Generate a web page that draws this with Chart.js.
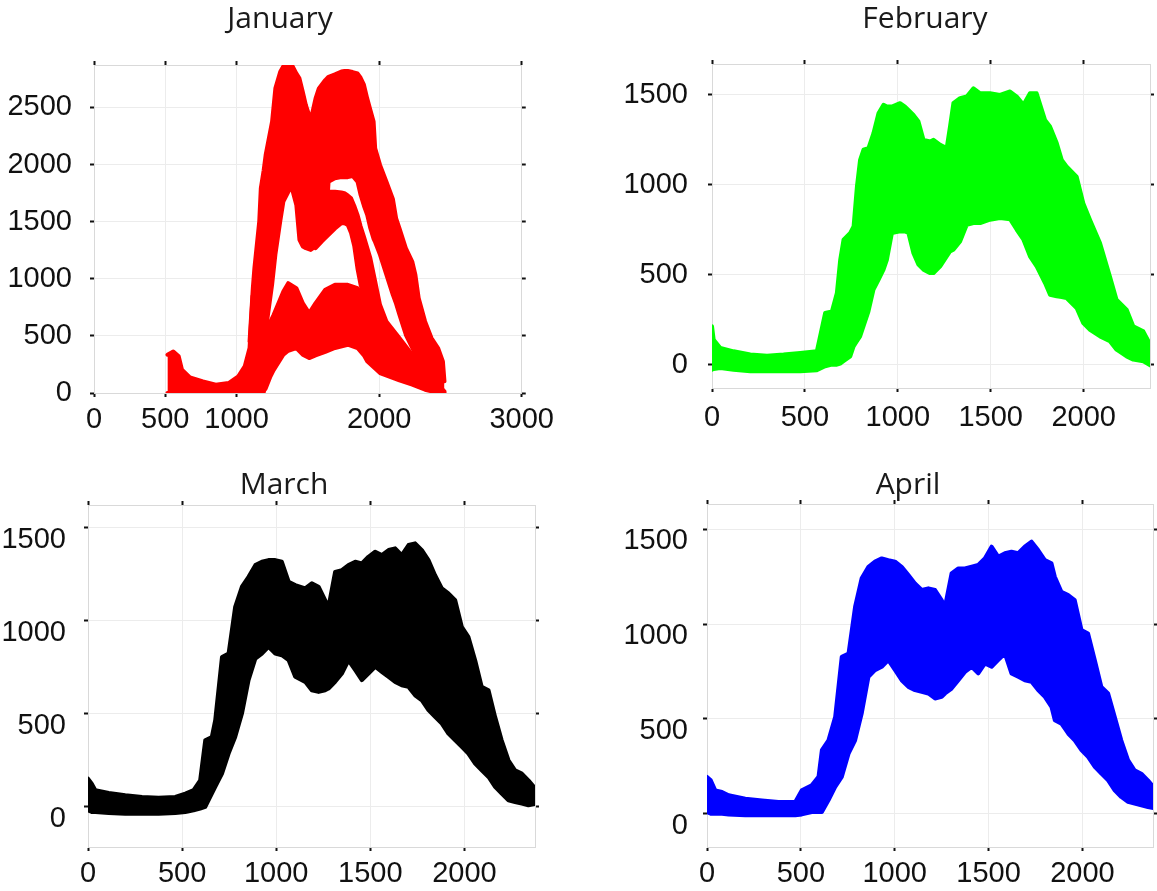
<!DOCTYPE html>
<html>
<head>
<meta charset="utf-8">
<script src="https://cdn.jsdelivr.net/npm/chart.js@4/dist/chart.umd.min.js"></script>
<style>
html,body{margin:0;padding:0;background:#fff;}
body{position:relative;width:1157px;height:891px;overflow:hidden;}
canvas{position:absolute;}
</style>
</head>
<body>
<canvas id="cJan" width="560" height="445" style="left:0px;top:0px"></canvas>
<canvas id="cFeb" width="692" height="445" style="left:579px;top:0px"></canvas>
<canvas id="cMar" width="568" height="446" style="left:0px;top:445px"></canvas>
<canvas id="cApr" width="658" height="446" style="left:579px;top:445px"></canvas>
<script>
// ---------- tick labels ----------
const JAN_X_TICKS = [0, 500, 1000, 2000, 3000];
const JAN_Y_TICKS = [0, 500, 1000, 1500, 2000, 2500];
const X_TICKS = [0, 500, 1000, 1500, 2000];
const Y_TICKS = [0, 500, 1000, 1500];

// ---------- January (point cloud read as bands: x, upper edge, lower edge) ----------
const JAN_BASE_X  = [515, 556, 594, 617, 673, 764, 854, 944, 1012, 1057, 1091, 1112];
const JAN_BASE_HI = [335, 364, 321, 204, 137, 102, 73, 87, 146, 233, 394, 850];
const JAN_BASE_LO = [0, 0, 0, 0, 0, 0, 0, 0, 0, 0, 0, 0];

const JAN_UP_X  = [1091, 1114, 1125, 1159, 1170, 1190, 1204, 1249, 1272, 1306, 1328, 1362, 1385, 1419, 1441, 1464, 1486, 1520, 1554, 1577, 1622, 1645, 1690, 1735, 1757, 1780, 1814, 1848, 1870, 1893, 1916, 1938, 1961, 1972, 2006, 2051, 2096, 2119, 2142, 2187, 2232, 2254, 2277, 2322, 2367, 2413, 2447, 2458];
const JAN_UP_HI = [452, 918, 1093, 1501, 1793, 1950, 2084, 2376, 2667, 2813, 2860, 2906, 2880, 2798, 2755, 2638, 2521, 2390, 2580, 2667, 2740, 2769, 2790, 2815, 2819, 2819, 2810, 2798, 2760, 2700, 2580, 2480, 2376, 2143, 1997, 1850, 1700, 1530, 1443, 1268, 1151, 1035, 831, 627, 481, 394, 277, 102];
const JAN_UP_LO = [0, 0, 0, 0, 0, 0, 539, 947, 1210, 1501, 1676, 1760, 1807, 1647, 1341, 1283, 1268, 1253, 1283, 1312, 1370, 1851, 1880, 1890, 1890, 1890, 1900, 1851, 1734, 1640, 1560, 1443, 1350, 1320, 1210, 1035, 860, 780, 685, 510, 394, 340, 277, 160, 73, 15, 0, 0];

const JAN_MID_X  = [1554, 1600, 1645, 1690, 1735, 1757, 1780, 1803, 1825, 1848, 1870, 1893, 1938, 1972, 2006, 2051, 2142, 2232, 2300];
const JAN_MID_HI = [1734, 1750, 1763, 1763, 1755, 1749, 1730, 1705, 1640, 1560, 1460, 1370, 1181, 977, 772, 627, 481, 335, 219];
const JAN_MID_LO = [1268, 1330, 1385, 1440, 1487, 1487, 1472, 1400, 1290, 1090, 947, 860, 760, 700, 627, 520, 394, 250, 150];

const JAN_LOW_X  = [1180, 1204, 1238, 1260, 1328, 1362, 1419, 1464, 1509, 1554, 1622, 1690, 1780, 1848, 1893, 1916, 2006, 2142, 2232, 2322, 2413, 2458];
const JAN_LOW_HI = [539, 539, 627, 685, 889, 962, 918, 787, 700, 787, 904, 947, 947, 918, 860, 800, 656, 452, 335, 189, 73, 15];
const JAN_LOW_LO = [0, 40, 146, 200, 335, 370, 394, 335, 306, 330, 360, 394, 423, 394, 330, 277, 175, 110, 73, 29, 0, 0];

// ---------- February ----------
const FEB_X  = [0, 9, 45, 116, 206, 296, 385, 475, 564, 609, 645, 672, 690, 708, 744, 762, 780, 797, 815, 842, 869, 896, 923, 941, 968, 1012, 1039, 1057, 1084, 1111, 1138, 1174, 1192, 1228, 1263, 1281, 1299, 1335, 1371, 1407, 1443, 1496, 1550, 1604, 1640, 1676, 1711, 1747, 1792, 1819, 1855, 1882, 1908, 1962, 1998, 2034, 2088, 2141, 2177, 2231, 2267, 2321, 2383];
const FEB_HI = [213, 139, 93, 74, 56, 50, 56, 65, 74, 287, 296, 398, 583, 695, 732, 769, 991, 1139, 1195, 1204, 1287, 1398, 1445, 1435, 1435, 1454, 1435, 1417, 1389, 1352, 1250, 1241, 1250, 1222, 1204, 1325, 1454, 1482, 1491, 1537, 1509, 1509, 1500, 1519, 1491, 1445, 1509, 1509, 1361, 1325, 1232, 1139, 1102, 1046, 898, 806, 676, 491, 361, 306, 213, 185, 65];
const FEB_LO = [-28, -24, -19, -28, -37, -37, -37, -37, -31, -9, 0, 0, 6, 19, 46, 102, 130, 157, 213, 296, 417, 472, 528, 583, 732, 741, 741, 732, 620, 556, 528, 509, 509, 546, 602, 630, 639, 685, 778, 787, 787, 806, 815, 809, 750, 695, 602, 546, 454, 389, 380, 376, 370, 315, 231, 194, 157, 130, 83, 46, 28, 19, -19];

// ---------- March ----------
const MAR_X  = [0, 20, 39, 110, 198, 287, 375, 464, 517, 561, 596, 623, 658, 676, 712, 747, 782, 818, 853, 889, 924, 959, 995, 1030, 1066, 1101, 1154, 1189, 1225, 1260, 1278, 1313, 1349, 1384, 1420, 1455, 1490, 1526, 1561, 1597, 1632, 1667, 1703, 1738, 1774, 1809, 1844, 1880, 1915, 1951, 1986, 2021, 2057, 2092, 2128, 2163, 2198, 2234, 2269, 2305, 2340, 2384];
const MAR_HI = [152, 125, 90, 75, 63, 54, 50, 54, 72, 90, 143, 358, 376, 466, 806, 824, 1075, 1183, 1236, 1299, 1317, 1326, 1326, 1317, 1210, 1192, 1174, 1201, 1183, 1111, 1075, 1263, 1272, 1299, 1317, 1308, 1344, 1371, 1353, 1380, 1389, 1353, 1407, 1416, 1380, 1326, 1245, 1174, 1147, 1111, 968, 914, 788, 645, 627, 484, 358, 251, 197, 179, 143, 90];
const MAR_LO = [-18, -27, -27, -32, -36, -36, -36, -32, -27, -18, -9, 0, 72, 108, 179, 287, 376, 502, 681, 797, 824, 860, 824, 815, 788, 699, 672, 627, 618, 627, 636, 672, 717, 788, 735, 681, 717, 753, 726, 699, 672, 654, 645, 600, 573, 520, 484, 448, 394, 358, 323, 287, 233, 197, 161, 108, 72, 36, 27, 18, 9, 18];

// ---------- April ----------
const APR_X  = [0, 20, 44, 80, 115, 204, 293, 381, 470, 505, 558, 594, 612, 647, 683, 718, 754, 789, 824, 860, 895, 931, 966, 1002, 1037, 1073, 1108, 1144, 1179, 1215, 1250, 1268, 1303, 1339, 1374, 1410, 1445, 1480, 1516, 1551, 1587, 1622, 1658, 1693, 1729, 1764, 1800, 1835, 1853, 1888, 1924, 1959, 1995, 2030, 2066, 2101, 2137, 2172, 2207, 2243, 2278, 2314, 2349, 2394];
const APR_HI = [194, 176, 123, 114, 97, 79, 70, 62, 62, 123, 150, 194, 335, 387, 511, 828, 845, 1092, 1242, 1303, 1330, 1347, 1338, 1330, 1303, 1259, 1215, 1180, 1189, 1180, 1127, 1092, 1268, 1294, 1294, 1303, 1312, 1347, 1409, 1356, 1374, 1382, 1374, 1409, 1435, 1391, 1338, 1321, 1250, 1171, 1153, 1127, 969, 951, 810, 669, 634, 511, 387, 282, 229, 211, 176, 123];
const APR_LO = [9, 0, 0, 0, -4, -9, -9, -9, -9, -4, 9, 9, 9, 70, 141, 194, 317, 387, 528, 722, 757, 775, 810, 757, 704, 669, 652, 643, 634, 608, 616, 634, 660, 704, 748, 775, 740, 792, 775, 810, 845, 740, 722, 704, 696, 652, 616, 564, 493, 475, 423, 387, 335, 299, 247, 211, 176, 123, 88, 62, 53, 44, 35, 26];

// ---------- drawing ----------
const TICK_FONT = {family: "'Liberation Sans', Arial, sans-serif", size: 29};
const TITLE_FONT = {family: "'Open Sans', 'Noto Sans', sans-serif", size: 30, weight: 'normal'};
const GRID_COLOR = '#ececec';
const BORDER_COLOR = '#d9d9d9';

function bandDatasets(xs, hi, lo, color) {
  const common = {borderColor: color, backgroundColor: color, borderWidth: 4, pointRadius: 0,
    tension: 0, borderJoinStyle: 'round', borderCapStyle: 'round'};
  return [
    Object.assign({data: xs.map((x, i) => ({x: x, y: hi[i]})), fill: false}, common),
    Object.assign({data: xs.map((x, i) => ({x: x, y: lo[i]})), fill: '-1'}, common)
  ];
}

function setTicks(list) {
  return function (scale) { scale.ticks = list.map(v => ({value: v})); };
}

function makeChart(p) {
  let datasets = [];
  p.bands.forEach(b => { datasets = datasets.concat(bandDatasets(b[0], b[1], b[2], p.color)); });
  const gridMain = {color: GRID_COLOR, lineWidth: 1, drawTicks: true, tickLength: 4, tickWidth: 2, tickColor: '#111'};
  const gridSide = {drawOnChartArea: false, drawTicks: true, tickLength: 4, tickWidth: 2, tickColor: '#111'};
  new Chart(document.getElementById(p.id), {
    type: 'line',
    data: {datasets: datasets},
    options: {
      responsive: false,
      animation: false,
      devicePixelRatio: 1,
      layout: {padding: 0},
      plugins: {
        legend: {display: false},
        tooltip: {enabled: false},
        title: {display: true, text: p.title, font: TITLE_FONT, color: '#1a1a1a',
          padding: {top: p.tPadTop, bottom: p.tPadBot}}
      },
      scales: {
        x: {type: 'linear', position: 'bottom', min: p.xMin, max: p.xMax,
          afterBuildTicks: setTicks(p.xTicks), afterFit: s => { s.height = p.xH; },
          ticks: {font: TICK_FONT, color: '#111', padding: p.xPad, maxRotation: 0, autoSkip: false,
            callback: v => String(v)},
          grid: gridMain, border: {color: BORDER_COLOR}},
        y: {type: 'linear', position: 'left', min: p.yMin, max: p.yMax,
          afterBuildTicks: setTicks(p.yTicks), afterFit: s => { s.width = p.yW; },
          ticks: {font: TICK_FONT, color: '#111', padding: p.yPad, labelOffset: p.yOff, autoSkip: false,
            callback: v => String(v)},
          grid: gridMain, border: {color: BORDER_COLOR}},
        x2: {type: 'linear', position: 'top', min: p.xMin, max: p.xMax,
          afterBuildTicks: setTicks(p.xTicks), afterFit: s => { s.height = p.x2H; },
          ticks: {display: false}, grid: gridSide, border: {color: BORDER_COLOR}},
        y2: {type: 'linear', position: 'right', min: p.yMin, max: p.yMax,
          afterBuildTicks: setTicks(p.yTicks), afterFit: s => { s.width = p.y2W; },
          ticks: {display: false}, grid: gridSide, border: {color: BORDER_COLOR}}
      }
    }
  });
}

const panels = [
  {id: 'cJan', title: 'January', color: '#ff0000',
   bands: [[JAN_BASE_X, JAN_BASE_HI, JAN_BASE_LO], [JAN_UP_X, JAN_UP_HI, JAN_UP_LO],
           [JAN_MID_X, JAN_MID_HI, JAN_MID_LO], [JAN_LOW_X, JAN_LOW_HI, JAN_LOW_LO]],
   xTicks: JAN_X_TICKS, yTicks: JAN_Y_TICKS, xMin: 0, xMax: 3000, yMin: 0, yMax: 2872,
   yW: 94, y2W: 23, xH: 52, x2H: 4, tPadTop: 1, tPadBot: 24, xPad: 6, yPad: 18, yOff: 0},
  {id: 'cFeb', title: 'February', color: '#00ff00',
   bands: [[FEB_X, FEB_HI, FEB_LO]],
   xTicks: X_TICKS, yTicks: Y_TICKS, xMin: 0, xMax: 2357, yMin: -130, yMax: 1672,
   yW: 133, y2W: 121, xH: 57, x2H: 4, tPadTop: 1, tPadBot: 23, xPad: 9, yPad: 20, yOff: 0},
  {id: 'cMar', title: 'March', color: '#000000',
   bands: [[MAR_X, MAR_HI, MAR_LO]],
   xTicks: X_TICKS, yTicks: Y_TICKS, xMin: 0, xMax: 2375, yMin: -215, yMax: 1622,
   yW: 88, y2W: 33, xH: 44, x2H: 2, tPadTop: 22, tPadBot: 0, xPad: 6, yPad: 18, yOff: 12},
  {id: 'cApr', title: 'April', color: '#0000ff',
   bands: [[APR_X, APR_HI, APR_LO]],
   xTicks: X_TICKS, yTicks: Y_TICKS, xMin: 0, xMax: 2376, yMin: -176, yMax: 1634,
   yW: 128, y2W: 84, xH: 44, x2H: 1, tPadTop: 22, tPadBot: 0, xPad: 6, yPad: 15, yOff: 12}
];

panels.forEach(makeChart);
</script>
</body>
</html>
